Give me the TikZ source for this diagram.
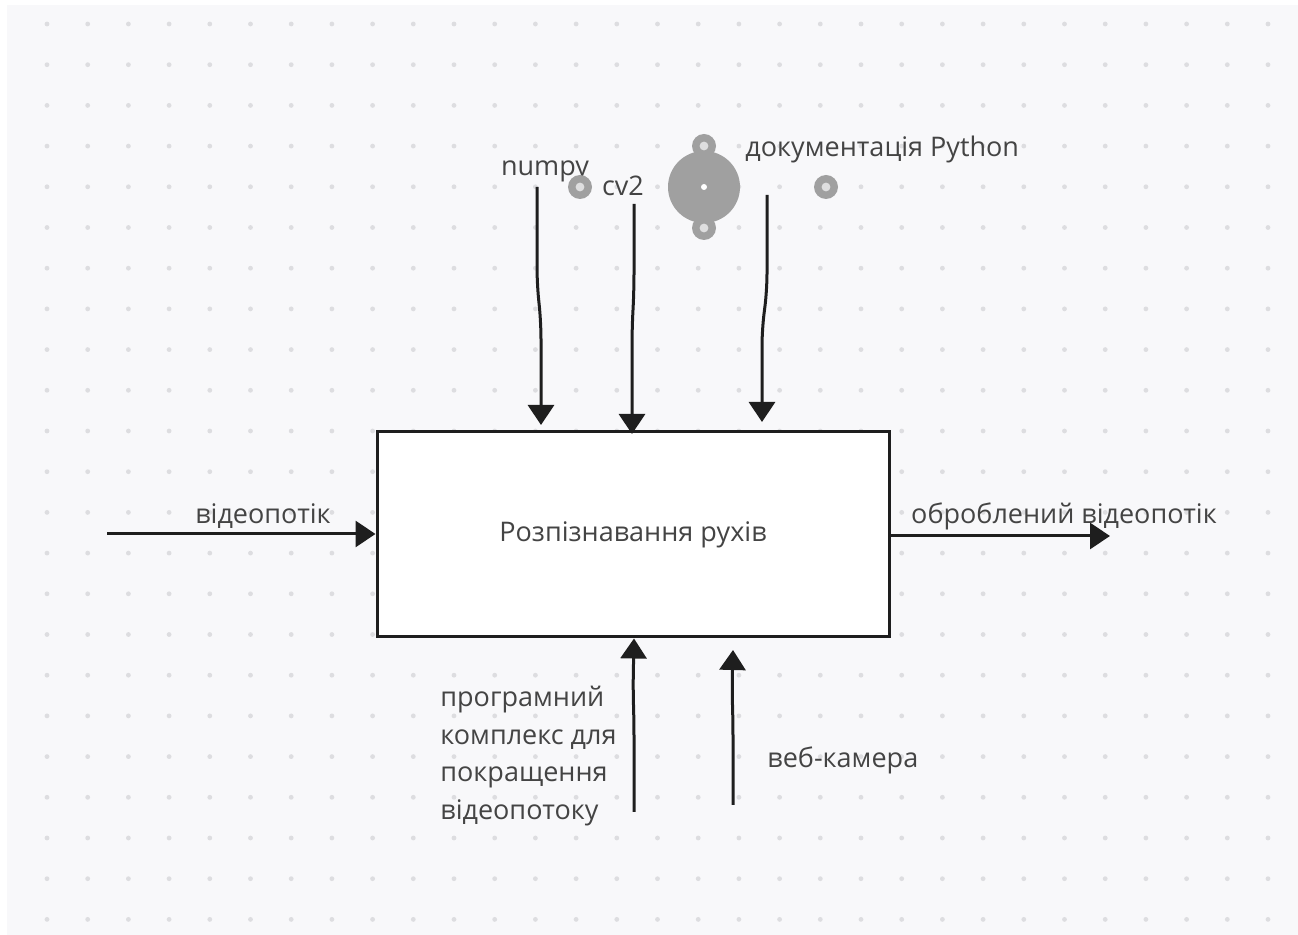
\documentclass[tikz,border=0pt]{standalone}
\usepackage{fontspec}
\setmainfont{Open Sans}
\usetikzlibrary{arrows.meta}
\definecolor{canvas}{HTML}{F8F8FA}
\definecolor{griddot}{HTML}{DDDDE0}
\definecolor{ink}{HTML}{1E1E1E}
\definecolor{txt}{HTML}{444444}
\definecolor{handle}{HTML}{A0A0A0}

\begin{document}
\begin{tikzpicture}[x=0.5pt, y=-0.5pt, >={Triangle[length=10pt,width=13pt]},
  font=\fontsize{13.5}{16}\selectfont, text=txt,
  func/.style={rectangle, draw=ink, line width=1.5pt, fill=white, minimum width=256pt, minimum height=102.5pt, inner sep=0pt},
  flow/.style={->, draw=ink, line width=1.5pt, rounded corners=8pt},
  lbl/.style={inner sep=0pt, anchor=base},
  ring/.style={circle, fill=handle, minimum size=12pt, inner sep=0pt}]
  % canvas
  \useasboundingbox (0,0) rectangle (1298,935);
  \fill[white] (0,0) rectangle (1298,935);
  \fill[canvas] (7,5) rectangle (1298,935);
  \foreach \i in {0,...,30}
    \foreach \j in {0,...,22}
      \fill[griddot] (47+40.7*\i, 24+40.7*\j) circle (1.2pt);
  % function block
  \node[func] (box) at (633,534.5) {Розпізнавання рухів};
  % inputs / outputs
  \coordinate (inL) at (107,534);
  \coordinate (outR) at (1110,536);
  \draw[flow] (inL) -- (box.west |- inL);
  \draw[flow] (box.east |- outR) -- (outR);
  \node[lbl] (vin) at (263,524) {відеопотік};
  \node[lbl] (vout) at (1064,524) {оброблений відеопотік};
  % controls
  \coordinate (np) at (537,187);  \coordinate (npE) at (541,425);
  \coordinate (cv) at (634,204);  \coordinate (cvE) at (632,434);
  \coordinate (py) at (767,195);  \coordinate (pyE) at (762,422);
  \draw[flow] (np) -- (537,283) -- (541,323) -- (npE);
  \draw[flow] (cv) -- (634,290) -- (632,330) -- (cvE);
  \draw[flow] (py) -- (767,290) -- (762,330) -- (pyE);
  \node[lbl] (tnp) at (545,176) {numpy};
  \node[lbl] (tcv) at (623,196) {cv2};
  \node[lbl, anchor=base west] (tpy) at (745,157) {документація Python};
  % selection handles
  \fill[handle] (704,187) circle (18pt);
  \fill[white] (704,187) circle (1.5pt);
  \foreach \p/\n in {{(704,146)}/h1, {(704,228)}/h2, {(580,187)}/h3, {(826,187)}/h4} {
    \node[ring] (\n) at \p {};
    \fill[canvas!70!handle] (\n) circle (2.2pt);
  }
  % mechanisms
  \coordinate (sw) at (634,812);
  \coordinate (cam) at (733,805);
  \coordinate (camE) at (733,650);
  \draw[flow] (sw) -- (634,720) -- (633,690) -- (box.south -| sw);
  \draw[flow] (cam) -- (733,720) -- (732,690) -- (camE);
  \node[anchor=north west, align=left, inner sep=0pt, font=\fontsize{13.5}{18.75}\selectfont] (tsw) at (440,686) {програмний\\комплекс для\\покращення\\відеопотоку};
  \node[lbl, anchor=base west] (tcam) at (767,768) {веб-камера};
\end{tikzpicture}
\end{document}
